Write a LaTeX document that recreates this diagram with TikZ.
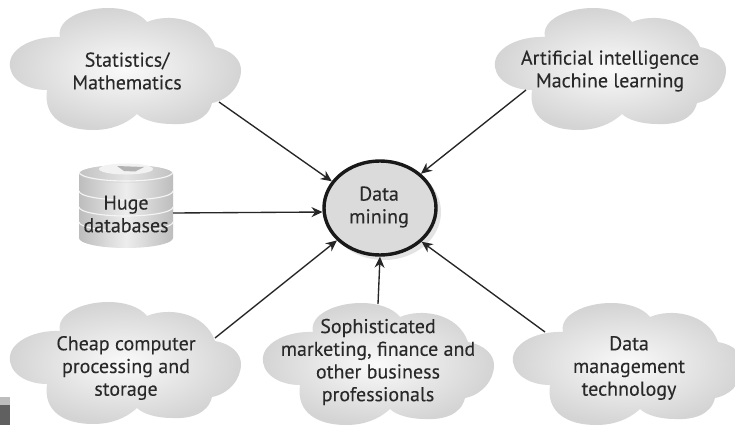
\documentclass[tikz,border=0pt]{standalone}
\usepackage{fontspec}
\setmainfont[FakeBold=0.15]{PT Sans}
\usetikzlibrary{shapes.geometric,arrows.meta}
\definecolor{inkc}{gray}{0.16}
\tikzset{
  x=1pt,y=-1pt,
  lbl/.style={align=center,text=inkc,font=\fontsize{20}{22.7}\selectfont,inner sep=0pt},
  conn/.style={line width=1.35pt,draw=black!85,-{Stealth[length=11pt,width=10pt]}},
  band/.style={draw=gray!8,line width=1.1pt},
  cloudshape/.pic={
    \shade[inner color=gray!4,outer color=gray!34]
      (10,62) .. controls (12,47) and (35,36) .. (60,37)
      .. controls (56,20) and (82,8) .. (108,8)
      .. controls (125,8) and (140,13) .. (147,22)
      .. controls (168,13) and (205,18) .. (215,47)
      .. controls (232,50) and (241,60) .. (241,70)
      .. controls (241,86) and (228,100) .. (212,103)
      .. controls (208,120) and (190,125) .. (172,124)
      .. controls (157,124) and (143,120) .. (137,114)
      .. controls (125,125) and (110,130) .. (93,130)
      .. controls (65,130) and (43,118) .. (47,90)
      .. controls (25,90) and (8,78) .. (10,62) -- cycle;
  }
}
\begin{document}
\begin{tikzpicture}
\useasboundingbox (0,0) rectangle (735,425);
\clip (0,0) rectangle (735,425);
\fill[white] (0,0) rectangle (735,425);
% clouds
\pic at (0,0) {cloudshape};
\pic at (485,0) {cloudshape};
\pic at (0,294) {cloudshape};
\pic at (253,295) {cloudshape};
\pic at (503,295) {cloudshape};
% dark corner block
\fill[gray!52] (0,397) rectangle (10,425);
\fill[gray!75!black] (0,405) rectangle (10,425);
% database
\shade[left color=gray!52,right color=gray!52,middle color=gray!14]
  (79,174) -- (79,238) arc[start angle=180,end angle=0,x radius=47,y radius=10] -- (173,174)
  arc[start angle=0,end angle=-180,x radius=47,y radius=9];
\shade[left color=gray!48,right color=gray!48,middle color=gray!22] (126,174) ellipse[x radius=47,y radius=9];
\fill[gray!10] (126,169) ellipse[x radius=27,y radius=5.5];
\fill[gray!60] (117,166) -- (144,167) -- (135,171.5) -- (124,171) -- cycle;
\foreach \yy in {172,191,207,222}{
  \draw[band] (79,\yy) arc[start angle=180,end angle=0,x radius=47,y radius=9];
}
% centre
\fill[gray!22] (384,212) ellipse[x radius=57,y radius=48];
\node[ellipse,minimum width=112pt,minimum height=94pt,inner sep=0pt,draw=black!90,line width=3.4pt,fill=gray!28] (dm) at (380,208) {};
\node[lbl] (dmt) at (379,207) {Data\\mining};
% labels
\node[lbl] (s) at (127,71) {Statistics/\\Mathematics};
\node[lbl] (ai) at (610,71) {Artificial intelligence\\Machine learning};
\node[lbl] (hd) at (126,214) {Huge\\databases};
\node[lbl] (cc) at (126,368) {Cheap computer\\processing and\\storage};
\node[lbl] (sp) at (378,362) {Sophisticated\\marketing, finance and\\other business\\professionals};
\node[lbl] (mg) at (629,368) {Data\\management\\technology};
% connector ends
\coordinate (sa) at (219,102);
\coordinate (aa) at (526,90);
\coordinate (ha) at (173,213);
\coordinate (ca) at (215,338);
\coordinate (pa) at (378,304);
\coordinate (ma) at (545,332);
\draw[conn] (sa) -- (dm.151);
\draw[conn] (aa) -- (dm.40);
\draw[conn] (ha) -- (dm.184);
\draw[conn] (ca) -- (dm.217);
\draw[conn] (pa) -- (dm.270);
\draw[conn] (ma) -- (dm.321);
\end{tikzpicture}
\end{document}
